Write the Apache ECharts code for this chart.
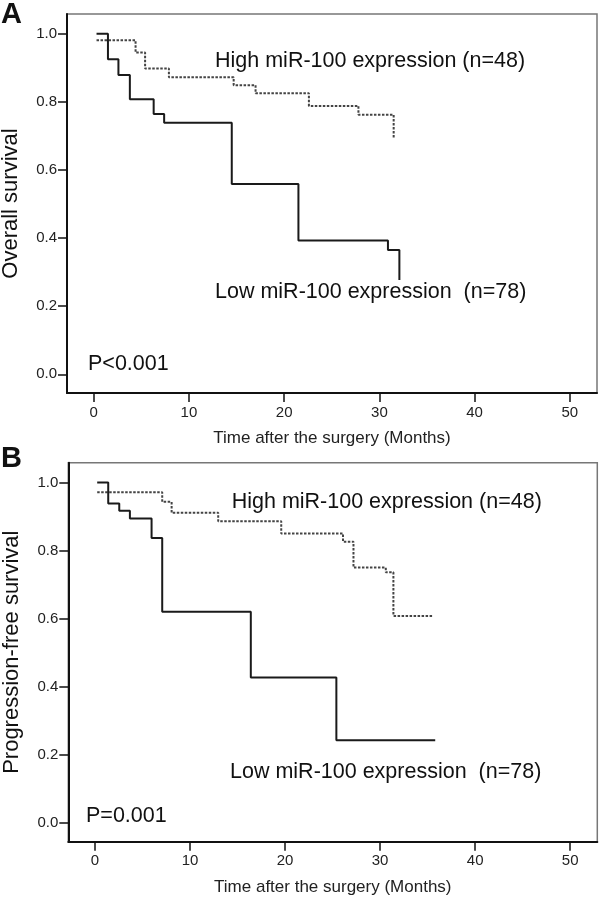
<!DOCTYPE html>
<html><head><meta charset="utf-8">
<script src="https://cdn.jsdelivr.net/npm/echarts@6/dist/echarts.min.js"></script>
<style>html,body{margin:0;padding:0;background:#fff}#c{width:600px;height:898px}</style>
</head><body><div id="c"></div>
<script>
// Tick values
const xTicks = [0, 10, 20, 30, 40, 50];
const yTicks = [0, 0.2, 0.4, 0.6, 0.8, 1.0];

// Panel A: Overall survival (step points: time, survival after that time)
const osLowTime  = [0.3, 1.5, 2.6, 3.8, 6.3, 7.4, 14.5, 21.5, 30.9, 32.1];
const osLowSurv  = [1.0, 0.925, 0.879, 0.808, 0.764, 0.739, 0.559, 0.393, 0.365, 0.277];
const osHighTime = [0.3, 4.4, 5.4, 7.9, 14.7, 17.0, 22.6, 27.8, 31.5];
const osHighSurv = [0.981, 0.945, 0.898, 0.872, 0.849, 0.825, 0.788, 0.762, 0.693];

// Panel B: Progression-free survival
const pfsLowTime  = [0.24, 1.4, 2.56, 3.68, 5.96, 7.08, 16.4, 25.4, 35.8];
const pfsLowSurv  = [1.0, 0.938, 0.917, 0.894, 0.837, 0.620, 0.427, 0.243, 0.243];
const pfsHighTime = [0.24, 7.08, 8.07, 12.97, 19.6, 26.1, 27.2, 30.6, 31.4, 35.6];
const pfsHighSurv = [0.971, 0.943, 0.911, 0.886, 0.850, 0.826, 0.750, 0.736, 0.608, 0.608];

const xName = 'Time after the surgery (Months)';
const yNames = ['Overall survival', 'Progression-free survival'];
const highLabel = 'High miR-100 expression (n=48)';
const lowLabel = 'Low miR-100 expression  (n=78)';
const pLabels = ['P<0.001', 'P=0.001'];
const panelLabels = ['A', 'B'];

const FONT = '"Liberation Sans", Arial, sans-serif';
const zip = (t, s) => t.map((v, i) => [v, s[i]]);

const grids = [
  {left: 67, top: 14, width: 530, height: 379},
  {left: 68.3, top: 462.7, width: 529, height: 379}
];

function xAxis(i) {
  return {
    gridIndex: i, type: 'value', min: -2.8, max: 52.85,
    axisLine: {onZero: false, lineStyle: {color: '#111', width: 2}},
    axisTick: {customValues: xTicks, length: 9, lineStyle: {color: '#111', width: 1.5}},
    axisLabel: {customValues: xTicks, fontSize: 15, color: '#222', margin: 12, fontFamily: FONT},
    splitLine: {show: false},
    name: xName, nameLocation: 'middle', nameGap: 37,
    nameTextStyle: {fontSize: 17, color: '#222', fontFamily: FONT}
  };
}
function yAxis(i) {
  return {
    gridIndex: i, type: 'value', min: -0.055, max: 1.058,
    axisLine: {onZero: false, lineStyle: {color: '#111', width: 2}},
    axisTick: {customValues: yTicks, length: 9, lineStyle: {color: '#111', width: 1.5}},
    axisLabel: {customValues: yTicks, fontSize: 15, color: '#222', margin: 10, fontFamily: FONT,
      formatter: v => v.toFixed(1)},
    splitLine: {show: false},
    name: yNames[i], nameLocation: 'middle', nameGap: 45,
    nameTextStyle: {fontSize: 22, color: '#111', fontFamily: FONT}
  };
}
function line(i, data, dotted) {
  return {
    type: 'line', xAxisIndex: i, yAxisIndex: i, data: data, step: 'end',
    showSymbol: false, animation: false, z: dotted ? 3 : 4,
    lineStyle: dotted ? {color: '#444', width: 2, type: [2.5, 1.5]} : {color: '#1a1a1a', width: 2}
  };
}
function txtAt(x, y, text, size, bold) {
  return {type: 'text', x: x, y: y, z: 10,
    style: {text: text, font: (bold ? 'bold ' : '') + size + 'px ' + FONT, fill: '#111',
      verticalAlign: 'middle', align: 'left'}};
}

const chart = echarts.init(document.getElementById('c'), null, {renderer: 'canvas'});
chart.setOption({
  backgroundColor: '#fff',
  animation: false,
  grid: grids.map(g => Object.assign({show: true, borderColor: '#777', borderWidth: 1.5,
    backgroundColor: '#fff', containLabel: false, outerBoundsMode: 'none'}, g)),
  xAxis: [xAxis(0), xAxis(1)],
  yAxis: [yAxis(0), yAxis(1)],
  series: [
    line(0, zip(osHighTime, osHighSurv), true),
    line(0, zip(osLowTime, osLowSurv), false),
    line(1, zip(pfsHighTime, pfsHighSurv), true),
    line(1, zip(pfsLowTime, pfsLowSurv), false)
  ],
  graphic: [
    txtAt(1, 15, panelLabels[0], 29, true),
    txtAt(1, 459, panelLabels[1], 29, true),
    txtAt(215, 61, highLabel, 21.5),
    txtAt(215, 291.7, lowLabel, 21.5),
    txtAt(88, 364, pLabels[0], 21.5),
    txtAt(231.7, 502.3, highLabel, 21.5),
    txtAt(230, 771.7, lowLabel, 21.5),
    txtAt(86, 815.7, pLabels[1], 21.5)
  ]
});
</script></body></html>
